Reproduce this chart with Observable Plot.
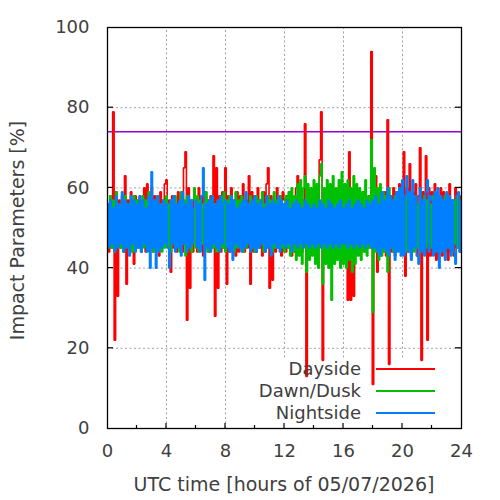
<!DOCTYPE html>
<html>
<head>
<meta charset="utf-8">
<script src="https://cdn.jsdelivr.net/npm/d3@7"></script>
<script src="https://cdn.jsdelivr.net/npm/@observablehq/plot@0.6"></script>
<style>
  html, body { margin: 0; padding: 0; background: #fff; }
  #chart svg { display: block; }
</style>
</head>
<body>
<div id="chart"></div>
<script>
// ---- data (values sampled every 0.1 h from 0 to 24 h) ----
const startHour = 0;
const stepHour = 0.1;

const dayside = [
  56,44,58,45,79,22,59,33,57,45,58,44,63,36,57,45,59,44,41,58,
  57,45,58,44,56,60,44,61,45,57,60,44,58,45,56,43,59,45,57,61,
  62,46,57,39,58,45,56,44,59,45,57,44,65,69,27,60,35,57,44,58,
  57,44,60,45,58,43,59,45,57,44,58,45,68,28,65,35,58,44,59,45,
  65,36,58,44,60,45,57,43,59,44,58,45,61,44,57,45,63,36,59,44,
  58,44,60,45,57,43,59,44,61,65,35,58,37,57,44,60,45,58,43,59,
  57,44,58,45,59,43,57,44,60,63,45,58,44,57,76,13,58,44,59,45,
  57,44,58,45,67,79,17,58,44,57,45,59,44,58,45,57,44,59,45,58,
  57,44,58,32,69,32,59,33,57,45,58,44,56,45,59,44,57,45,58,94,
  11,58,63,39,57,45,58,44,59,43,77,16,58,44,60,43,59,45,61,44,
  58,69,38,60,44,66,43,59,45,61,43,58,70,17,59,44,68,22,60,43,
  59,44,61,42,58,45,60,43,59,44,58,42,61,44,57,43,60,45,58,44,
  58
];

const dawnDusk = [
  55,46,58,45,57,44,59,46,56,45,57,44,58,46,56,45,57,44,58,45,
  57,46,56,44,58,45,57,46,59,45,56,44,57,45,58,46,56,44,57,45,
  58,45,56,44,57,46,58,45,56,44,59,46,57,43,58,45,56,44,57,60,
  45,58,44,57,46,56,45,59,44,57,46,58,45,56,44,57,46,58,45,59,
  44,57,46,58,45,56,44,59,45,57,46,58,44,57,45,56,46,58,45,57,
  44,58,45,57,46,59,44,56,45,58,46,57,44,59,45,57,46,58,45,56,
  44,58,45,59,43,60,44,58,42,61,43,62,41,60,63,39,61,42,60,43,
  62,41,61,40,63,66,36,60,41,62,40,61,32,63,41,60,42,62,40,64,
  41,61,40,62,42,60,39,63,41,61,43,60,42,59,44,62,43,58,45,72,
  29,65,44,60,42,61,43,59,44,58,39,60,45,57,44,58,46,57,45,56,
  45,57,44,58,46,56,45,57,44,58,45,56,46,57,44,58,45,57,46,56,
  45,58,44,57,46,56,45,57,44,58,46,57,45,56,44,57,46,58,45,57,
  46
];

const nightside = [
  56,45,57,46,55,44,58,45,56,46,59,44,57,45,56,43,58,46,57,44,
  56,45,58,44,57,46,55,44,58,40,64,45,57,40,58,44,56,45,57,46,
  56,45,40,57,46,58,44,56,45,57,43,59,46,56,44,58,45,57,46,55,
  57,45,56,44,58,65,37,56,45,57,44,58,46,56,45,57,44,58,46,56,
  57,45,56,44,58,42,57,46,55,45,56,44,57,45,59,46,56,44,57,45,
  58,44,56,45,57,46,55,44,58,45,56,43,57,46,56,45,58,44,57,46,
  56,45,57,46,55,44,56,46,57,45,56,46,55,45,57,46,56,45,55,46,
  56,45,55,46,57,45,56,46,55,45,57,46,56,45,55,46,56,45,57,46,
  55,46,56,45,57,46,55,45,56,46,57,45,56,46,55,45,57,46,56,45,
  57,45,58,44,56,43,59,45,57,44,60,43,58,45,57,42,59,44,60,43,
  62,43,58,63,44,59,42,62,45,58,43,41,60,44,57,43,59,62,44,58,
  57,43,59,44,60,40,58,44,57,42,59,45,58,43,57,44,41,58,59,44,
  57
];

const seriesNames = ["Dayside", "Dawn/Dusk", "Nightside"];
const seriesColors = ["#ff0000", "#00c000", "#0080ff"];
const thresholdValue = 74;
const xMajorTicks = [0, 4, 8, 12, 16, 20, 24];
const xMinorTicks = [2, 6, 10, 14, 18, 22];
const xGrid = [4, 8, 12, 16, 20];
const yTicks = [0, 20, 40, 60, 80, 100];
const yGrid = [20, 40, 60, 80];
const xTitle = "UTC time [hours of 05/07/2026]";
const yTitle = "Impact Parameters [%]";

// ---- build table ----
const rows = [];
[dayside, dawnDusk, nightside].forEach((arr, s) => {
  arr.forEach((v, i) => rows.push({series: seriesNames[s], t: startHour + i * stepHour, v}));
});

const textColor = "#404040";

const plot = Plot.plot({
  width: 500,
  height: 500,
  marginLeft: 107,
  marginRight: 39,
  marginTop: 27,
  marginBottom: 72,
  style: {background: "#fff", fontFamily: "DejaVu Sans", fontSize: "18px", color: textColor},
  x: {domain: [0, 24], label: null},
  y: {domain: [0, 100], label: null},
  color: {domain: seriesNames, range: seriesColors},
  marks: [
    Plot.ruleX(xGrid, {x: d => d, y1: d => (d >= 12 ? 17.6 : 0), y2: 100, stroke: "#a0a0a0", strokeWidth: 1, strokeDasharray: "2,2.5"}),
    Plot.ruleY(yGrid, {y: d => d, stroke: "#a0a0a0", strokeWidth: 1, strokeDasharray: "2,2.5"}),
    Plot.ruleY([thresholdValue], {stroke: "#9400d3", strokeWidth: 1.3}),
    Plot.line(rows, {x: "t", y: "v", z: "series", stroke: "series", curve: "step", strokeWidth: 1.6, strokeLinecap: "butt", strokeLinejoin: "miter"}),
    Plot.frame({stroke: "#000", strokeWidth: 1.3}),
    Plot.axisX(xMajorTicks, {anchor: "bottom", tickSize: 0, tickPadding: 16, fontSize: 18, label: null, fill: textColor}),
    Plot.axisY(yTicks, {anchor: "left", tickSize: 0, tickPadding: 18, fontSize: 18, label: null, fill: textColor})
  ]
});

document.getElementById("chart").appendChild(plot);

// ---- inward ticks, titles and key drawn with the plot's scales ----
const svg = d3.select(plot);
const xs = plot.scale("x");
const ys = plot.scale("y");
const x0 = xs.apply(0), x1 = xs.apply(24), yb = ys.apply(0), yt = ys.apply(100);

const tg = svg.append("g").attr("stroke", "#000").attr("stroke-width", 1.2);
xMajorTicks.slice(1, -1).forEach(v => {
  tg.append("line").attr("x1", xs.apply(v)).attr("x2", xs.apply(v)).attr("y1", yb).attr("y2", yb - 5);
});
xMinorTicks.forEach(v => {
  tg.append("line").attr("x1", xs.apply(v)).attr("x2", xs.apply(v)).attr("y1", yb).attr("y2", yb - 3);
});
yGrid.forEach(v => {
  tg.append("line").attr("x1", x0).attr("x2", x0 + 6).attr("y1", ys.apply(v)).attr("y2", ys.apply(v));
  tg.append("line").attr("x1", x1).attr("x2", x1 - 6).attr("y1", ys.apply(v)).attr("y2", ys.apply(v));
});

svg.append("text")
  .attr("x", (x0 + x1) / 2).attr("y", 490.5)
  .attr("text-anchor", "middle")
  .attr("font-family", "DejaVu Sans").attr("font-size", 19).attr("fill", textColor)
  .text(xTitle);

svg.append("text")
  .attr("transform", `translate(24,${(yb + yt) / 2 + 3}) rotate(-90)`)
  .attr("text-anchor", "middle")
  .attr("font-family", "DejaVu Sans").attr("font-size", 19).attr("fill", textColor)
  .text(yTitle);

const key = svg.append("g");
seriesNames.forEach((name, k) => {
  const ly = 369 + k * 22;
  key.append("text")
    .attr("x", 361).attr("y", ly + 5.8)
    .attr("text-anchor", "end")
    .attr("font-family", "DejaVu Sans").attr("font-size", 18).attr("fill", textColor)
    .text(name);
  key.append("line")
    .attr("x1", 376).attr("x2", 435).attr("y1", ly).attr("y2", ly)
    .attr("stroke", seriesColors[k]).attr("stroke-width", 2.2);
});
</script>
</body>
</html>
